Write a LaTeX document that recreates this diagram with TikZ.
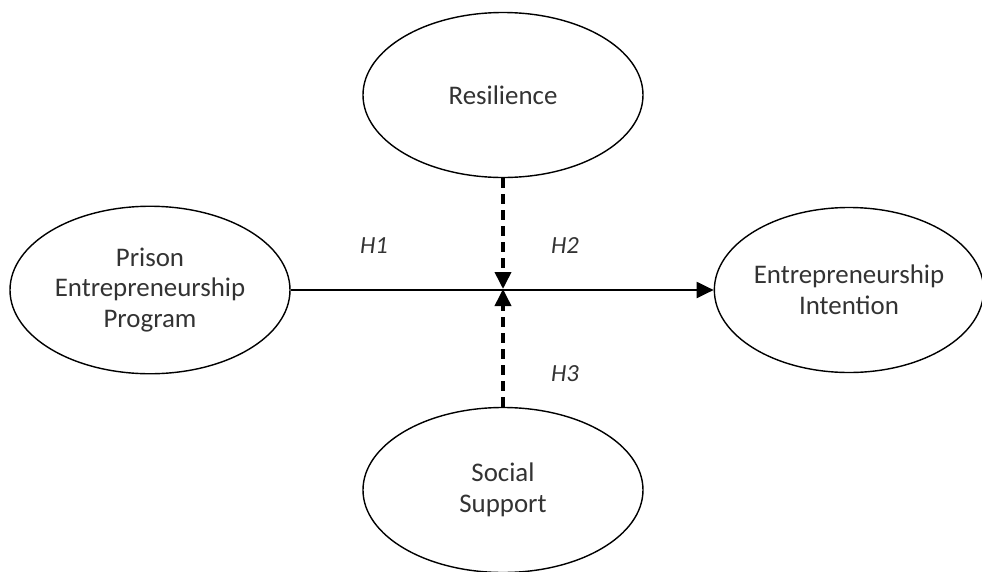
\documentclass[tikz,border=0pt]{standalone}
\usepackage{fontspec}
\setmainfont{Carlito}
\usetikzlibrary{shapes.geometric,arrows.meta}

\begin{document}
\begin{tikzpicture}[x=0.2mm, y=-0.2mm,
    construct/.style={draw, ellipse, line width=0.8pt, inner sep=0pt, align=center,
        font=\fontsize{15.3}{17.6}\selectfont, text=black!80},
    hyp/.style={font=\fontsize{14}{17}\selectfont\itshape, text=black!80},
    moderate/.style={line width=2.1pt, dash pattern=on 0.2cm off 0.12cm, -{Triangle[length=0.34cm, width=0.32cm]}}]
\useasboundingbox (0,0) rectangle (982,572);
\clip (0,0) rectangle (982,572);

\node[construct, minimum width=5.6cm, minimum height=3.3cm] (resil) at (503,95) {Resilience};
\node[construct, minimum width=5.6cm, minimum height=3.35cm] (prison) at (150,290) {Prison\\Entrepreneurship\\Program};
\node[construct, minimum width=5.34cm, minimum height=3.3cm] (intent) at (849,290) {Entrepreneurship\\Intention};
\node[construct, minimum width=5.6cm, minimum height=3.3cm] (social) at (503,490) {Social\\Support};

\coordinate (mid) at (503,289);

\draw[line width=1.2pt, -{Triangle[length=0.34cm, width=0.32cm]}] (prison) -- (intent);
\draw[moderate] (resil.south) -- (mid);
\draw[moderate] (social.north) -- (mid);

\node[hyp] (h1) at (374,246) {H1};
\node[hyp] (h2) at (565,246) {H2};
\node[hyp] (h3) at (565,374) {H3};
\end{tikzpicture}
\end{document}
